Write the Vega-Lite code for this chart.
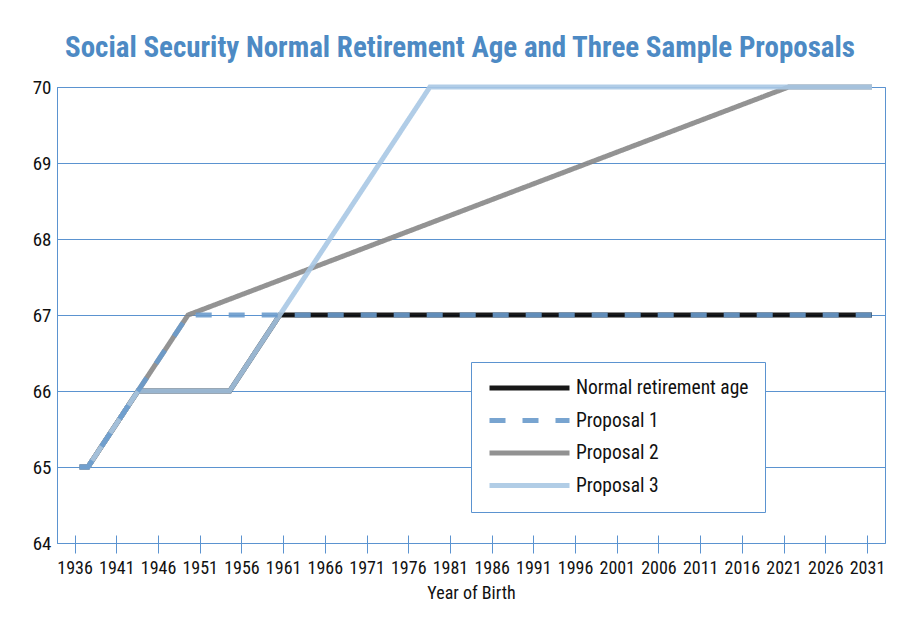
{
  "$schema": "https://vega.github.io/schema/vega-lite/v6.json",
  "width": 828,
  "height": 456,
  "autosize": "none",
  "padding": {"left": 57, "top": 87, "right": 27, "bottom": 83},
  "background": "white",
  "title": {
    "text": "Social Security Normal Retirement Age and Three Sample Proposals",
    "font": "Liberation Sans Narrow, Roboto Condensed, DejaVu Sans Condensed, Liberation Sans",
    "fontSize": 29,
    "fontWeight": "bold",
    "color": "#4d8ac4",
    "anchor": "middle",
    "baseline": "alphabetic",
    "dx": -11,
    "dy": 38,
    "offset": 29
  },
  "config": {
    "view": {"stroke": "#5b93d0", "strokeWidth": 1},
    "axis": {"gridColor": "#5b93d0", "gridOpacity": 1, "domainColor": "#5b93d0", "tickColor": "#5b93d0"},
    "axisY": {"gridColor": "#5b93d0", "gridOpacity": 1, "domainColor": "#5b93d0"},
    "font": "Liberation Sans Narrow, Roboto Condensed, DejaVu Sans Condensed, Liberation Sans"
  },
  "data": {
    "values": [
      {"series": "Normal retirement age", "year": 1936, "age": 65},
      {"series": "Normal retirement age", "year": 1937, "age": 65},
      {"series": "Normal retirement age", "year": 1943, "age": 66},
      {"series": "Normal retirement age", "year": 1954, "age": 66},
      {"series": "Normal retirement age", "year": 1960, "age": 67},
      {"series": "Normal retirement age", "year": 2031, "age": 67},
      {"series": "Proposal 2", "year": 1936, "age": 65},
      {"series": "Proposal 2", "year": 1937, "age": 65},
      {"series": "Proposal 2", "year": 1943, "age": 66},
      {"series": "Proposal 2", "year": 1949, "age": 67},
      {"series": "Proposal 2", "year": 2021, "age": 70},
      {"series": "Proposal 2", "year": 2031, "age": 70},
      {"series": "Proposal 3", "year": 1936, "age": 65},
      {"series": "Proposal 3", "year": 1937, "age": 65},
      {"series": "Proposal 3", "year": 1943, "age": 66},
      {"series": "Proposal 3", "year": 1954, "age": 66},
      {"series": "Proposal 3", "year": 1960, "age": 67},
      {"series": "Proposal 3", "year": 1978, "age": 70},
      {"series": "Proposal 3", "year": 2031, "age": 70},
      {"series": "Proposal 1", "year": 1936, "age": 65},
      {"series": "Proposal 1", "year": 1937, "age": 65},
      {"series": "Proposal 1", "year": 1943, "age": 66},
      {"series": "Proposal 1", "year": 1949, "age": 67},
      {"series": "Proposal 1", "year": 2031, "age": 67}
    ]
  },
  "mark": {"type": "line", "strokeWidth": 5, "strokeCap": "butt", "strokeJoin": "miter", "opacity": 0.9},
  "encoding": {
    "x": {
      "field": "year",
      "type": "quantitative",
      "scale": {"domain": [1933.29, 2032.56], "nice": false, "zero": false},
      "axis": {
        "values": [1935.4, 1940.4, 1945.4, 1950.4, 1955.4, 1960.4, 1965.4, 1970.4, 1975.4, 1980.4, 1985.4, 1990.4, 1995.4, 2000.4, 2005.4, 2010.4, 2015.4, 2020.4, 2025.4, 2030.4],
        "labelExpr": "'' + round(datum.value + 0.6)",
        "title": "Year of Birth",
        "grid": false,
        "domain": false,
        "offset": -8,
        "tickSize": 18,
        "tickColor": "#5b93d0",
        "labelFontSize": 18,
        "labelColor": "#111111",
        "labelPadding": 6,
        "titleFontSize": 18,
        "titleFontWeight": "normal",
        "titleColor": "#111111",
        "titlePadding": 7
      }
    },
    "y": {
      "field": "age",
      "type": "quantitative",
      "scale": {"domain": [64, 70], "nice": false, "zero": false},
      "axis": {
        "values": [64, 65, 66, 67, 68, 69, 70],
        "title": null,
        "ticks": false,
        "grid": true,
        "domainColor": "#5b93d0",
        "gridColor": "#5b93d0",
        "gridOpacity": 1,
        "gridWidth": 1,
        "labelFontSize": 19,
        "labelColor": "#111111",
        "labelPadding": 6
      }
    },
    "color": {
      "field": "series",
      "type": "nominal",
      "scale": {
        "domain": ["Normal retirement age", "Proposal 1", "Proposal 2", "Proposal 3"],
        "range": ["#000000", "#6a9bcc", "#878787", "#a9c8e4"]
      },
      "legend": {
        "title": null,
        "orient": "none",
        "legendX": 414,
        "legendY": 275,
        "direction": "vertical",
        "symbolType": "stroke",
        "symbolSize": 6400,
        "symbolStrokeWidth": 5,
        "labelFontSize": 19.5,
        "labelColor": "#111111",
        "labelOffset": 4,
        "labelLimit": 300,
        "padding": 16,
        "clipHeight": 20,
        "rowPadding": 12.5,
        "strokeColor": "#5b93d0",
        "fillColor": "white"
      }
    },
    "strokeDash": {
      "field": "series",
      "type": "nominal",
      "scale": {
        "domain": ["Normal retirement age", "Proposal 1", "Proposal 2", "Proposal 3"],
        "range": [[1, 0], [16, 17], [1, 0], [1, 0]]
      }
    }
  }
}
